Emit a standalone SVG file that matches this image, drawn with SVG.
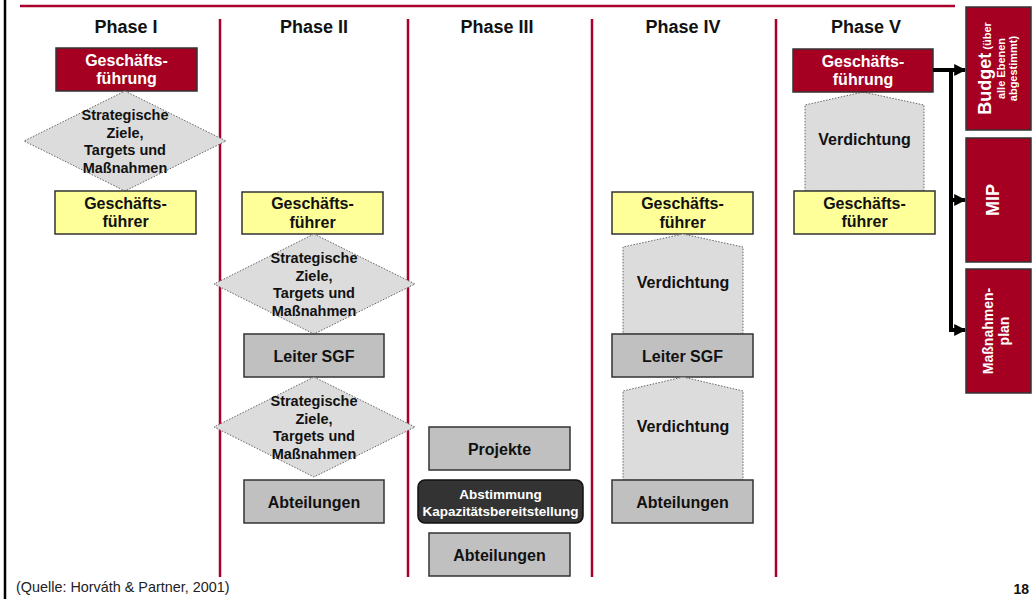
<svg xmlns="http://www.w3.org/2000/svg" width="1032" height="599" viewBox="0 0 1032 599">
<style>
text{font-family:"Liberation Sans",Arial,sans-serif;font-weight:bold;text-anchor:middle;fill:#111}
.h{font-size:18px}
.t{font-size:16px}
.d{font-size:14.5px}
.w{fill:#fff}
.red{fill:#a50021;stroke:#333;stroke-width:1.5}
.yel{fill:#ffff99;stroke:#333;stroke-width:1.5}
.gry{fill:#c0c0c0;stroke:#333;stroke-width:1.5}
.dia{fill:#dcdcdc;stroke:#666;stroke-width:1;stroke-dasharray:1.5 1.5}
.sep{stroke:#a8002b;stroke-width:2.5}
.conn{stroke:#000;stroke-width:4;fill:none}
.sm{font-size:11px}
</style>
<defs>
<marker id="ah" viewBox="0 0 10 10" refX="9" refY="5" markerWidth="3" markerHeight="3" orient="auto" markerUnits="strokeWidth">
<path d="M0,0 L10,5 L0,10 z" fill="#000"/>
</marker>
</defs>
<rect width="1032" height="599" fill="#fff"/>
<g id="frame">
<line x1="5" y1="0" x2="5" y2="599" stroke="#000" stroke-width="2.5"/>
<line x1="20" y1="6" x2="955" y2="6" class="sep"/>
<line x1="220" y1="19" x2="220" y2="577" class="sep"/>
<line x1="408" y1="19" x2="408" y2="577" class="sep"/>
<line x1="592" y1="19" x2="592" y2="577" class="sep"/>
<line x1="776" y1="19" x2="776" y2="577" class="sep"/>
</g>
<g id="headings">
<text class="h" x="126" y="33">Phase I</text>
<text class="h" x="314" y="33">Phase II</text>
<text class="h" x="497" y="33">Phase III</text>
<text class="h" x="683" y="33">Phase IV</text>
<text class="h" x="866" y="33">Phase V</text>
</g>
<g id="p1-gf">
<rect class="red" x="56" y="48" width="141" height="43"/>
<text class="t w" x="126.5" y="66">Geschäfts-</text>
<text class="t w" x="126.5" y="84">führung</text>
</g>
<g id="p1-ziele">
<polygon class="dia" points="125,91 226,141 125,191 24,141"/>
<text class="d" x="125" y="120">Strategische</text>
<text class="d" x="125" y="137.5">Ziele,</text>
<text class="d" x="125" y="155">Targets und</text>
<text class="d" x="125" y="172.5">Maßnahmen</text>
</g>
<g id="p1-gfr">
<rect class="yel" x="55" y="191" width="141" height="43"/>
<text class="t" x="125.5" y="208.5">Geschäfts-</text>
<text class="t" x="125.5" y="227">führer</text>
</g>
<g id="p2-gfr">
<rect class="yel" x="242" y="192" width="141" height="42"/>
<text class="t" x="312.5" y="209">Geschäfts-</text>
<text class="t" x="312.5" y="227.5">führer</text>
</g>
<g id="p2-ziele1">
<polygon class="dia" points="314,234 415,284 314,334 214,284"/>
<text class="d" x="314" y="263">Strategische</text>
<text class="d" x="314" y="280.5">Ziele,</text>
<text class="d" x="314" y="298">Targets und</text>
<text class="d" x="314" y="315.5">Maßnahmen</text>
</g>
<g id="p2-sgf">
<rect class="gry" x="244" y="334" width="140" height="43"/>
<text class="t" x="314" y="361.5">Leiter SGF</text>
</g>
<g id="p2-ziele2">
<polygon class="dia" points="314,377 415,427 314,477 214,427"/>
<text class="d" x="314" y="406">Strategische</text>
<text class="d" x="314" y="423.5">Ziele,</text>
<text class="d" x="314" y="441">Targets und</text>
<text class="d" x="314" y="458.5">Maßnahmen</text>
</g>
<g id="p2-abt">
<rect class="gry" x="244" y="480" width="140" height="43"/>
<text class="t" x="314" y="507.5">Abteilungen</text>
</g>
<g id="p3-proj">
<rect class="gry" x="429" y="427" width="141" height="43"/>
<text class="t" x="499.5" y="454.5">Projekte</text>
</g>
<g id="p3-abst">
<rect x="418" y="480" width="165" height="43" rx="7" fill="#333" stroke="#111" stroke-width="1.5"/>
<text class="w" x="500.5" y="499" style="font-size:13.5px">Abstimmung</text>
<text class="w" x="500.5" y="515.5" style="font-size:13.5px">Kapazitätsbereitstellung</text>
</g>
<g id="p3-abt">
<rect class="gry" x="429" y="533" width="141" height="43"/>
<text class="t" x="499.5" y="560.5">Abteilungen</text>
</g>
<g id="p4-gfr">
<rect class="yel" x="612" y="192" width="141" height="42"/>
<text class="t" x="682.5" y="209">Geschäfts-</text>
<text class="t" x="682.5" y="227.5">führer</text>
</g>
<g id="p4-verd1">
<polygon class="dia" points="683,234 743,247 743,334 623,334 623,247"/>
<text class="t" x="683" y="288">Verdichtung</text>
</g>
<g id="p4-sgf">
<rect class="gry" x="612" y="334" width="141" height="43"/>
<text class="t" x="682.5" y="361.5">Leiter SGF</text>
</g>
<g id="p4-verd2">
<polygon class="dia" points="683,377 743,391 743,480 623,480 623,391"/>
<text class="t" x="683" y="432">Verdichtung</text>
</g>
<g id="p4-abt">
<rect class="gry" x="612" y="480" width="141" height="43"/>
<text class="t" x="682.5" y="507.5">Abteilungen</text>
</g>
<g id="p5-verd">
<polygon class="dia" points="863,92 924,105 924,191 805,191 805,105"/>
<text class="t" x="864.5" y="145">Verdichtung</text>
</g>
<g id="p5-gf">
<rect class="red" x="793" y="49" width="140" height="43"/>
<text class="t w" x="863" y="67">Geschäfts-</text>
<text class="t w" x="863" y="85">führung</text>
</g>
<g id="p5-gfr">
<rect class="yel" x="794" y="191" width="141" height="43"/>
<text class="t" x="864.5" y="208.5">Geschäfts-</text>
<text class="t" x="864.5" y="227">führer</text>
</g>
<g id="budget">
<rect class="red" x="966" y="7" width="65" height="123"/>
<g transform="translate(991,68.5) rotate(-90)">
<text class="w" x="0" y="0"><tspan style="font-size:18px">Budget</tspan><tspan class="sm"> (über</tspan></text>
<text class="w sm" x="0" y="13.5">alle Ebenen</text>
<text class="w sm" x="0" y="26">abgestimmt)</text>
</g>
</g>
<g id="mip">
<rect class="red" x="966" y="138" width="65" height="124"/>
<text class="w" transform="translate(999,200) rotate(-90)" style="font-size:18px">MIP</text>
</g>
<g id="massnahmenplan">
<rect class="red" x="966" y="269" width="65" height="124"/>
<g transform="translate(993,331) rotate(-90)">
<text class="w" x="0" y="0" style="font-size:14px">Maßnahmen-</text>
<text class="w" x="0" y="16" style="font-size:14px">plan</text>
</g>
</g>
<g id="connectors">
<path class="conn" d="M933,70 H951 V330"/>
<path class="conn" d="M951,70 H965" marker-end="url(#ah)"/>
<path class="conn" d="M951,200 H965" marker-end="url(#ah)"/>
<path class="conn" d="M949,330 H965" marker-end="url(#ah)"/>
</g>
<g id="footer">
<text x="16" y="592" style="font-weight:normal;font-size:14.4px;text-anchor:start;fill:#222">(Quelle: Horváth &amp; Partner, 2001)</text>
<text x="1029" y="594" style="font-size:14px;text-anchor:end">18</text>
</g>
</svg>
